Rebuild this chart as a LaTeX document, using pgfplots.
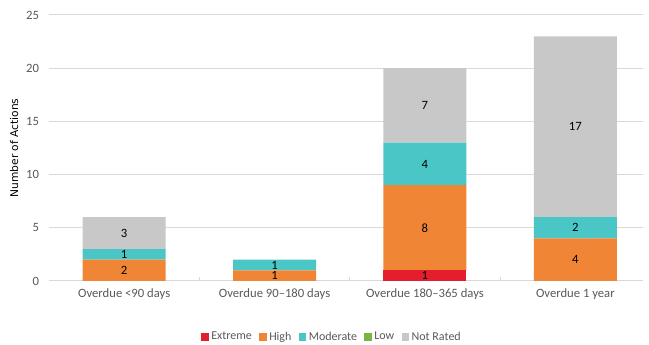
\documentclass[border=0pt]{standalone}
\usepackage{pgfplots}
\pgfplotsset{compat=1.18}
\usepackage{fontspec}
\setmainfont{Carlito}
\newfontfamily\dejavu{DejaVu Sans}
\definecolor{cExt}{HTML}{E31E2D}
\definecolor{cHigh}{HTML}{F08536}
\definecolor{cMod}{HTML}{4BC6C6}
\definecolor{cLow}{HTML}{7CB342}
\definecolor{cNR}{HTML}{C8C8C8}
\definecolor{txt}{HTML}{595959}
\definecolor{grd}{HTML}{D9D9D9}
\begin{document}
\begin{tikzpicture}
\useasboundingbox (-36.75pt,-48pt) rectangle (450pt,210.75pt);
\pgfplotsset{
  common/.style={
    at={(0,0)}, anchor=south west,
    scale only axis, width=445.5pt, height=199.5pt,
    xmin=-0.5, xmax=3.45, ymin=0, ymax=25,
  },
}
\begin{axis}[common,
  ybar stacked, bar width=62.25pt,
  axis line style={draw=none},
  tick pos=bottom,
  xtick={0,1,2,3},
  xticklabels={Overdue <90 days, Overdue 90–180 days, Overdue 180–365 days, Overdue 1 year},
  minor xtick={0.5,1.5,2.5},
  minor tick length=3pt, major tick length=0pt,
  minor tick style={grd, line width=0.75pt},
  xticklabel style={font=\fontsize{9.5}{11}\selectfont, text=txt, yshift=-2pt},
  ytick={0,5,10,15,20,25},
  ymajorgrids, major grid style={grd, line width=0.75pt},
  yticklabel style={font=\fontsize{9.5}{11}\selectfont, text=txt, xshift=-4pt},
  /pgf/number format/assume math mode=true,
  ylabel={Number of Actions},
  ylabel style={font=\dejavu\fontsize{8}{10}\selectfont, text=black, yshift=-1pt},
  legend style={at={(0.477,-0.21)}, anchor=center, draw=none, fill=none,
    font=\fontsize{9}{10}\selectfont, text=txt, legend columns=5,
    /tikz/every even column/.append style={column sep=3.5pt}},
  legend image code/.code={\fill[#1] (0pt,-3pt) rectangle (5.5pt,3pt);},
]
\addplot[fill=cExt, draw=none] coordinates {(0,0) (1,0) (2,1) (3,0)};
\addplot[fill=cHigh, draw=none] coordinates {(0,2) (1,1) (2,8) (3,4)};
\addplot[fill=cMod, draw=none] coordinates {(0,1) (1,1) (2,4) (3,2)};
\addplot[fill=cLow, draw=none] coordinates {(0,0) (1,0) (2,0) (3,0)};
\addplot[fill=cNR, draw=none] coordinates {(0,3) (1,0) (2,7) (3,17)};
\legend{Extreme, High, Moderate, Low, Not Rated}
\end{axis}
\begin{axis}[common, hide axis]
\addplot[only marks, mark=none, nodes near coords, point meta=explicit symbolic,
  every node near coord/.append style={anchor=center, font=\fontsize{9.5}{11}\selectfont, text=black, inner sep=0pt}]
  table[meta=label] {
x y label
0 1 2
0 2.5 1
0 4.5 3
1 0.5 1
1 1.5 1
2 0.5 1
2 5 8
2 11 4
2 16.5 7
3 2 4
3 5 2
3 14.5 17
};
\end{axis}
\end{tikzpicture}
\end{document}
